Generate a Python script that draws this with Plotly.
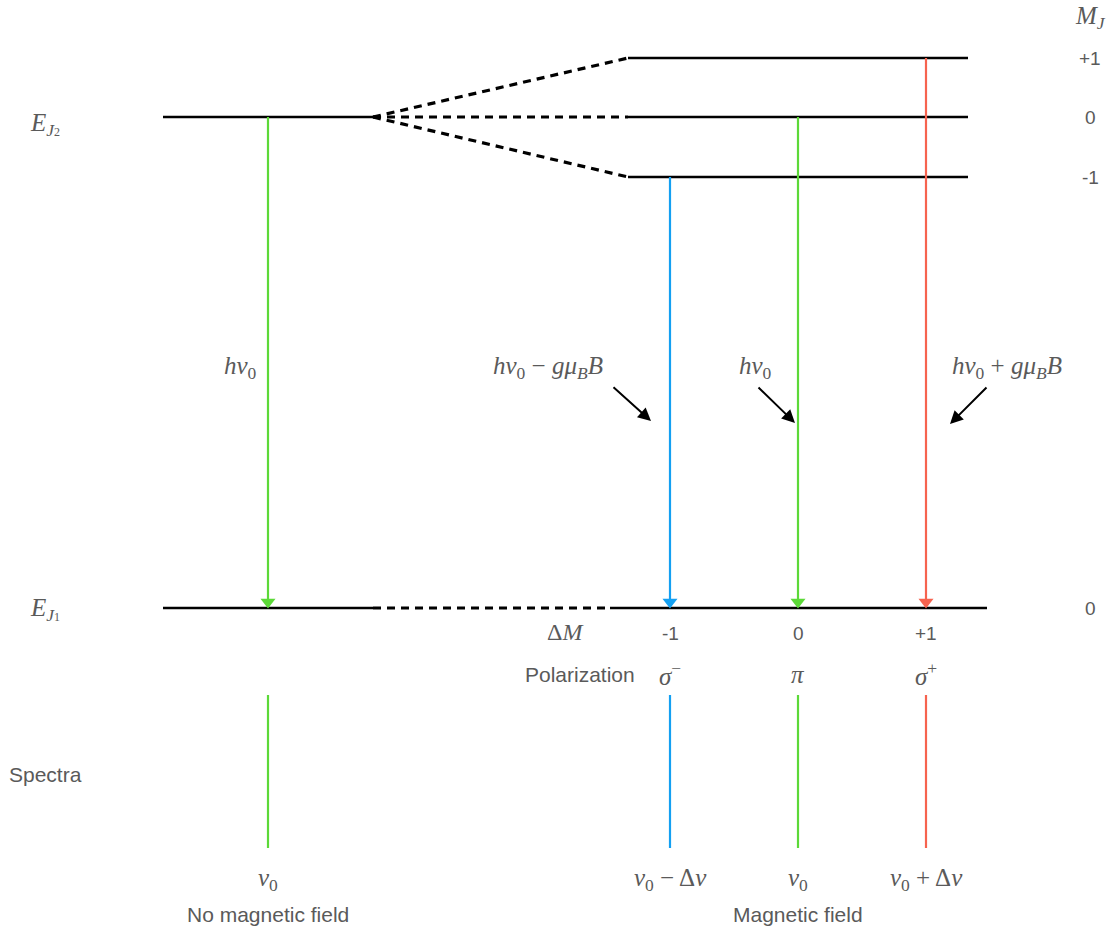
import plotly.graph_objects as go

# ---------------- data (diagram units, y grows downwards) ----------------
mj_labels = ["+1", "0", "-1"]
y_upper_split = [58, 117, 177]
y_EJ2 = 117
y_EJ1 = 608
x_left_level = [163, 373]
x_fan = [373, 628]
x_right_upper = [628, 968]
x_lower_dash = [373, 610]
x_lower_right = [610, 987]

trans_x = [268, 670, 798, 926]
trans_top = [117, 177, 117, 58]
trans_colors = ["#5cd938", "#14a0f2", "#5cd938", "#f6634f"]
delta_m = ["-1", "0", "+1"]
polarization = ["<i>σ</i><sup>−</sup>", "<i>π</i>", "<i>σ</i><sup>+</sup>"]
spec_top, spec_bottom = 695, 848
spectra_labels = ["<i>ν</i><sub>0</sub>", "<i>ν</i><sub>0</sub> − Δ<i>ν</i>",
                  "<i>ν</i><sub>0</sub>", "<i>ν</i><sub>0</sub> + Δ<i>ν</i>"]
energy_labels = ["<i>hν</i><sub>0</sub>",
                 "<i>hν</i><sub>0</sub> − <i>gμ</i><sub><i>B</i></sub><i>B</i>",
                 "<i>hν</i><sub>0</sub>",
                 "<i>hν</i><sub>0</sub> + <i>gμ</i><sub><i>B</i></sub><i>B</i>"]
energy_label_x = [240, 548, 755, 1007]
energy_label_y = 367
pointer_from = [None, (612, 386), (757, 386), (988, 386)]
pointer_to = [None, (651, 421), (795, 423), (950, 424)]

SERIF = "Liberation Serif, DejaVu Serif, serif"
SANS = "Liberation Sans, Arial, sans-serif"
GREY = "#5a5a5a"

fig = go.Figure()

def line(xs, ys, color="black", width=2.5, dash=None):
    fig.add_trace(go.Scatter(x=xs, y=ys, mode="lines", hoverinfo="skip",
                             line=dict(color=color, width=width, dash=dash),
                             showlegend=False))

# upper level
line(x_left_level, [y_EJ2, y_EJ2])
for yy in y_upper_split:
    line(x_fan, [y_EJ2, yy], width=3.2, dash="8px,6px")
    line(x_right_upper, [yy, yy])

# lower level
line(x_left_level, [y_EJ1, y_EJ1])
line(x_lower_dash, [y_EJ1, y_EJ1], width=3.2, dash="8px,6px")
line(x_lower_right, [y_EJ1, y_EJ1])

# transitions + arrowheads + spectral lines
for x, top, c in zip(trans_x, trans_top, trans_colors):
    line([x, x], [top, y_EJ1 - 8], color=c, width=2.2)
    fig.add_trace(go.Scatter(x=[x], y=[y_EJ1 - 6], mode="markers", hoverinfo="skip",
                             marker=dict(symbol="triangle-down", size=13, color=c,
                                         line=dict(width=0)),
                             showlegend=False))
    line([x, x], [spec_top, spec_bottom], color=c, width=2.2)

annotations = []

def text(x, y, t, size=21, font=SANS, color=GREY, xanchor="center"):
    annotations.append(dict(x=x, y=y, xref="x", yref="y", text=t, showarrow=False,
                            font=dict(family=font, size=size, color=color),
                            xanchor=xanchor, yanchor="middle"))

# level labels
text(45, 124, "<i>E</i><sub><i>J</i><span style='font-size:12px'>2</span></sub>",
     size=25, font=SERIF)
text(45, 609, "<i>E</i><sub><i>J</i><span style='font-size:12px'>1</span></sub>",
     size=25, font=SERIF)
text(1090, 17, "<i>M</i><sub><i>J</i></sub>", size=25, font=SERIF)
for lab, yy in zip(mj_labels, y_upper_split):
    text(1090, yy, lab, size=19)
text(1090, y_EJ1, "0", size=19)

# energy labels and pointer arrows
for lab, lx, pf, pt in zip(energy_labels, energy_label_x, pointer_from, pointer_to):
    text(lx, energy_label_y, lab, size=25, font=SERIF)
    if pf is not None:
        annotations.append(dict(x=pt[0], y=pt[1], ax=pf[0], ay=pf[1],
                                xref="x", yref="y", axref="x", ayref="y",
                                showarrow=True, arrowhead=2, arrowsize=1.3,
                                arrowwidth=2, arrowcolor="black", text=""))

# Delta M and polarization rows
text(565, 632, "Δ<i>M</i>", size=24, font=SERIF)
for x, d in zip(trans_x[1:], delta_m):
    text(x, 633, d, size=19)
text(580, 674, "Polarization")
for x, p in zip(trans_x[1:], polarization):
    text(x, 674, p, size=25, font=SERIF)

# spectra labels
text(45, 774, "Spectra")
for x, lab in zip(trans_x, spectra_labels):
    text(x, 879, lab, size=25, font=SERIF)
text(268, 914, "No magnetic field")
text(798, 914, "Magnetic field")

fig.update_layout(
    width=1115, height=931,
    margin=dict(l=0, r=0, t=0, b=0),
    paper_bgcolor="white", plot_bgcolor="white",
    xaxis=dict(range=[0, 1115], visible=False, fixedrange=True),
    yaxis=dict(range=[931, 0], visible=False, fixedrange=True),
    annotations=annotations,
    showlegend=False,
)

fig.write_html("out.html", config={"displayModeBar": False},
               post_script="document.body.style.margin='0';")
